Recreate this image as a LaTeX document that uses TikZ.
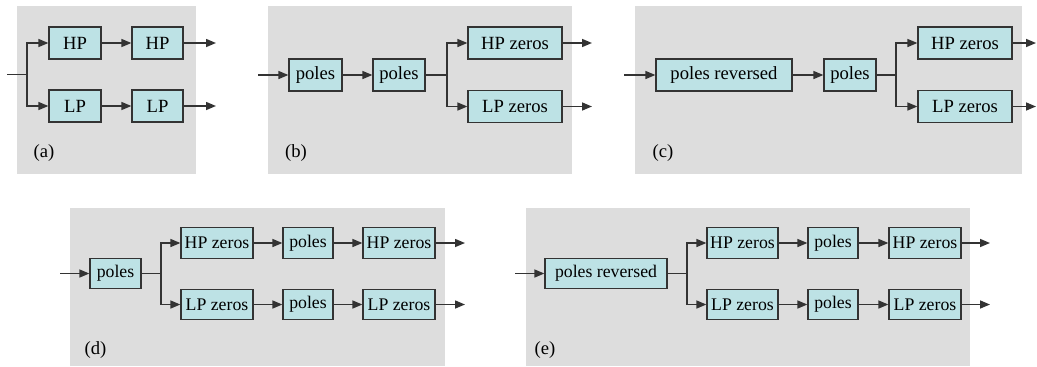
\documentclass[tikz,border=0pt]{standalone}
\usepackage{fontspec}
\setmainfont{Liberation Serif}
\usetikzlibrary{arrows.meta}
\definecolor{fbPanel}{HTML}{DDDDDD}
\definecolor{fbBox}{HTML}{BDE2E5}
\definecolor{fbInk}{HTML}{333333}

\begin{document}
\begin{tikzpicture}[
  x=0.02cm, y=-0.02cm,
  >={Triangle[length=2mm,width=1.6mm]},
  font=\fontsize{10.6}{12}\selectfont,
  blk/.style={draw=fbInk,fill=fbBox,line width=0.7pt,inner sep=1pt,
              minimum height=0.64cm,text=black},
  bw/.style={minimum width=#1*0.02cm},
  lowrow/.style={minimum height=0.61cm,font=\fontsize{10.1}{12}\selectfont},
  wire/.style={line width=0.85pt,fbInk},
  tag/.style={inner sep=0pt},
]
\useasboundingbox (0,0) rectangle (1037,366);
% grey panels
\fill[fbPanel] (17,6) rectangle (196,174);
\fill[fbPanel] (268,6) rectangle (572,174);
\fill[fbPanel] (635,6) rectangle (1022,174);
\fill[fbPanel] (70,208) rectangle (445,366);
\fill[fbPanel] (526,208) rectangle (970,366);

% (a) two HP / LP stages
\node[blk,bw=52] (hpA1) at (75,43)    {HP};
\node[blk,bw=51] (hpA2) at (157.5,43) {HP};
\node[blk,bw=52] (lpA1) at (75,106)   {LP};
\node[blk,bw=51] (lpA2) at (157.5,106){LP};
\coordinate (inA) at (7,74.5);
\coordinate (brA) at (27,74.5);
\coordinate (outHA) at (216,43);
\coordinate (outLA) at (216,106);
\draw[wire] (inA) -- (brA);
\draw[wire,->] (brA) |- (hpA1);
\draw[wire,->] (brA) |- (lpA1);
\draw[wire,->] (hpA1) -- (hpA2);
\draw[wire,->] (lpA1) -- (lpA2);
\draw[wire,->] (hpA2) -- (outHA);
\draw[wire,->] (lpA2) -- (outLA);
\node[tag] (labA) at (44,153) {(a)};

% (b) poles twice, then the zeros
\node[blk,bw=53] (poB1) at (315.5,75) {poles};
\node[blk,bw=52] (poB2) at (399,75)   {poles};
\node[blk,bw=94] (hpB)  at (515,43)   {HP zeros};
\node[blk,bw=94] (lpB)  at (515,106.5){LP zeros};
\coordinate (inB) at (258,75);
\coordinate (brB) at (447,75);
\coordinate (outHB) at (592,43);
\coordinate (outLB) at (592,106.5);
\draw[wire,->] (inB) -- (poB1);
\draw[wire,->] (poB1) -- (poB2);
\draw[wire] (poB2) -- (brB);
\draw[wire,->] (brB) |- (hpB);
\draw[wire,->] (brB) |- (lpB);
\draw[wire,->] (hpB) -- (outHB);
\draw[wire,->] (lpB) -- (outLB);
\node[tag] (labB) at (296,153) {(b)};

% (c) reversed poles first
\node[blk,bw=136] (prC) at (724,75)    {poles reversed};
\node[blk,bw=52]  (poC) at (850,75)    {poles};
\node[blk,bw=94]  (hpC) at (965,43)    {HP zeros};
\node[blk,bw=94]  (lpC) at (965,106.5) {LP zeros};
\coordinate (inC) at (624,75);
\coordinate (brC) at (896,75);
\coordinate (outHC) at (1036,43);
\coordinate (outLC) at (1036,106.5);
\draw[wire,->] (inC) -- (prC);
\draw[wire,->] (prC) -- (poC);
\draw[wire] (poC) -- (brC);
\draw[wire,->] (brC) |- (hpC);
\draw[wire,->] (brC) |- (lpC);
\draw[wire,->] (hpC) -- (outHC);
\draw[wire,->] (lpC) -- (outLC);
\node[tag] (labC) at (663,153) {(c)};

% (d) zeros - poles - zeros on each branch
\node[blk,lowrow,bw=51] (poD)  at (115.5,273.5) {poles};
\node[blk,lowrow,bw=72] (hpD1) at (217,243)   {HP zeros};
\node[blk,lowrow,bw=50] (phD)  at (308,243)   {poles};
\node[blk,lowrow,bw=72] (hpD2) at (399,243)   {HP zeros};
\node[blk,lowrow,bw=72] (lpD1) at (217,304.5) {LP zeros};
\node[blk,lowrow,bw=50] (plD)  at (308,304.5) {poles};
\node[blk,lowrow,bw=72] (lpD2) at (399,304.5) {LP zeros};
\coordinate (inD) at (60,273.5);
\coordinate (brD) at (161,273.5);
\coordinate (outHD) at (465,243);
\coordinate (outLD) at (465,304.5);
\draw[wire,->] (inD) -- (poD);
\draw[wire] (poD) -- (brD);
\draw[wire,->] (brD) |- (hpD1);
\draw[wire,->] (brD) |- (lpD1);
\draw[wire,->] (hpD1) -- (phD);
\draw[wire,->] (phD) -- (hpD2);
\draw[wire,->] (lpD1) -- (plD);
\draw[wire,->] (plD) -- (lpD2);
\draw[wire,->] (hpD2) -- (outHD);
\draw[wire,->] (lpD2) -- (outLD);
\node[tag] (labD) at (95.5,350) {(d)};

% (e) same as (d) with reversed poles in front
\node[blk,lowrow,bw=122] (prE)  at (606,273.5)   {poles reversed};
\node[blk,lowrow,bw=71]  (hpE1) at (742.5,243)   {HP zeros};
\node[blk,lowrow,bw=50]  (phE)  at (833,243)     {poles};
\node[blk,lowrow,bw=72]  (hpE2) at (925,243)     {HP zeros};
\node[blk,lowrow,bw=71]  (lpE1) at (742.5,304.5) {LP zeros};
\node[blk,lowrow,bw=50]  (plE)  at (833,304.5)   {poles};
\node[blk,lowrow,bw=72]  (lpE2) at (925,304.5)   {LP zeros};
\coordinate (inE) at (515,273.5);
\coordinate (brE) at (687,273.5);
\coordinate (outHE) at (990,243);
\coordinate (outLE) at (990,304.5);
\draw[wire,->] (inE) -- (prE);
\draw[wire] (prE) -- (brE);
\draw[wire,->] (brE) |- (hpE1);
\draw[wire,->] (brE) |- (lpE1);
\draw[wire,->] (hpE1) -- (phE);
\draw[wire,->] (phE) -- (hpE2);
\draw[wire,->] (lpE1) -- (plE);
\draw[wire,->] (plE) -- (lpE2);
\draw[wire,->] (hpE2) -- (outHE);
\draw[wire,->] (lpE2) -- (outLE);
\node[tag] (labE) at (545,350) {(e)};
\end{tikzpicture}
\end{document}
